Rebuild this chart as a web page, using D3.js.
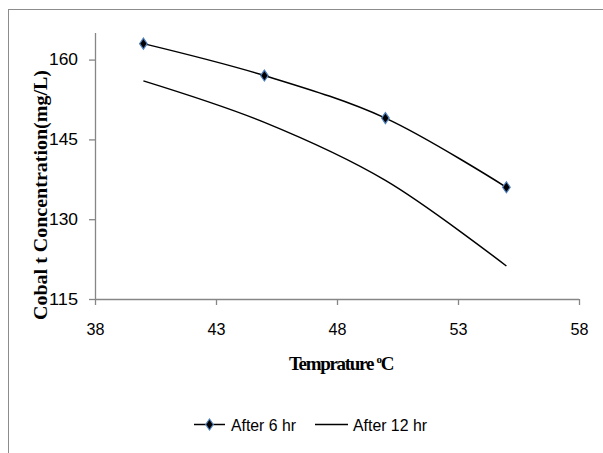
<!DOCTYPE html>
<html><head><meta charset="utf-8">
<script src="https://cdnjs.cloudflare.com/ajax/libs/d3/7.8.5/d3.min.js"></script>
<style>
body{margin:0;background:#fff;}
svg{display:block;}
.tick text{font-family:"Liberation Sans",Arial,sans-serif;font-size:16.5px;fill:#000;}
</style></head>
<body><svg id="c" width="603" height="453"></svg>
<script>
const temps = [40, 45, 50, 55];
const after6 = [163, 157, 149, 136];
const after12 = [156, 148.2, 137.3, 121.2];
const xTicks = [38, 43, 48, 53, 58];
const yTicks = [115, 130, 145, 160];
const seriesNames = ["After 6 hr", "After 12 hr"];

const svg = d3.select("#c");
svg.append("rect").attr("x",8.5).attr("y",9.5).attr("width",700).attr("height",600)
  .attr("fill","#fff").attr("stroke","#8c8c8c").attr("stroke-width",1);

const x = d3.scaleLinear().domain([38,58]).range([95,579]);
const y = d3.scaleLinear().domain([115,165]).range([299,33]);
const axisCol = "#868686";

const gx = svg.append("g").attr("transform","translate(0,299)")
  .call(d3.axisBottom(x).tickValues(xTicks).tickSize(6).tickPadding(18).tickFormat(d3.format("d")));
const gy = svg.append("g").attr("transform","translate(95,0)")
  .call(d3.axisLeft(y).tickValues(yTicks).tickSize(6).tickPadding(11).tickFormat(d3.format("d")));
[gx,gy].forEach(g=>{
  g.select(".domain").attr("stroke",axisCol).attr("stroke-width",1.3);
  g.selectAll(".tick line").attr("stroke",axisCol).attr("stroke-width",1.3);
});
gy.select(".domain").attr("d","M0.5,33V299.5");
gx.select(".domain").attr("d","M95,0.5H579");
gy.selectAll(".tick text").attr("textLength",29).attr("lengthAdjust","spacingAndGlyphs");
gx.selectAll(".tick text").attr("textLength",18).attr("lengthAdjust","spacingAndGlyphs");

const line = d3.line().x((d,i)=>x(temps[i])).y(d=>y(d)).curve(d3.curveCatmullRom.alpha(0.5));
svg.append("path").attr("d",line(after12)).attr("fill","none").attr("stroke","#000").attr("stroke-width",1.5);
svg.append("path").attr("d",line(after6)).attr("fill","none").attr("stroke","#000").attr("stroke-width",1.5);

const diamond = (cx,cy)=>`M${cx},${cy-5.5}L${cx+3.8},${cy}L${cx},${cy+5.5}L${cx-3.8},${cy}Z`;
svg.selectAll(".mk").data(after6).enter().append("path").attr("class","mk")
  .attr("d",(d,i)=>diamond(x(temps[i]),y(d))).attr("fill","#000").attr("stroke","#4f81bd").attr("stroke-width",1.2);

// axis titles
const serif = "'Liberation Serif','Times New Roman',serif";
svg.append("text").attr("transform","translate(47,195) rotate(-90)")
  .attr("text-anchor","middle").attr("font-family",serif)
  .attr("font-weight","bold").attr("font-size","18px").attr("textLength",250).attr("lengthAdjust","spacingAndGlyphs")
  .text("Cobal t Concentration(mg/L)");
const xt = svg.append("text").attr("x",341).attr("y",370)
  .attr("text-anchor","middle").attr("font-family",serif)
  .attr("font-weight","bold").attr("font-size","19px").attr("letter-spacing","-1.3px");
xt.append("tspan").text("Temprature ");
xt.append("tspan").attr("font-size","11px").attr("dy","-7").text("o");
xt.append("tspan").attr("dy","7").text("C");

// legend
const lg = svg.append("g");
const lf = "'Liberation Sans',Arial,sans-serif";
lg.append("line").attr("x1",194).attr("x2",225).attr("y1",424.5).attr("y2",424.5).attr("stroke","#000").attr("stroke-width",1.5);
lg.append("path").attr("d",diamond(209.5,424.5)).attr("fill","#000").attr("stroke","#4f81bd").attr("stroke-width",1.2);
lg.append("text").attr("x",231).attr("y",431).attr("font-family",lf).attr("font-size","17px")
  .attr("textLength",65).attr("lengthAdjust","spacingAndGlyphs").text(seriesNames[0]);
lg.append("line").attr("x1",315).attr("x2",348).attr("y1",424.5).attr("y2",424.5).attr("stroke","#000").attr("stroke-width",1.5);
lg.append("text").attr("x",353).attr("y",431).attr("font-family",lf).attr("font-size","17px")
  .attr("textLength",74).attr("lengthAdjust","spacingAndGlyphs").text(seriesNames[1]);
</script></body></html>
